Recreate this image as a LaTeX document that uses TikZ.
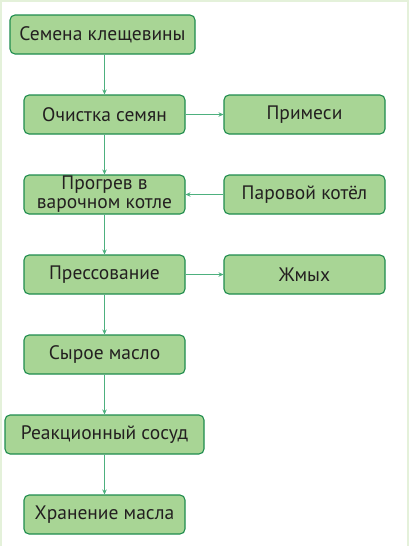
\documentclass[tikz,border=0pt]{standalone}
\usepackage{fontspec}
\setmainfont{PT Sans}
\usetikzlibrary{arrows.meta}
\definecolor{boxfill}{HTML}{A8D595}
\definecolor{boxline}{HTML}{1E8C4E}
\definecolor{flowline}{HTML}{4DB07E}
\definecolor{textgray}{HTML}{231F20}
\definecolor{framegreen}{HTML}{E4F1DA}

\tikzset{
	stepbox/.style={draw=boxline, fill=boxfill, line width=1.1pt, rounded corners=5pt,
		minimum width=161pt, minimum height=39pt, inner sep=1pt, align=center,
		text=textgray, font=\fontsize{19.5}{19}\selectfont},
	flow/.style={->, draw=flowline, line width=0.8pt},
}

\begin{document}
\begin{tikzpicture}[x=1pt, y=-1pt, >={Stealth[length=5pt,width=4.5pt]}]
			\useasboundingbox (0,0) rectangle (409,546);
			\draw[framegreen, line width=1.2pt] (1,546) -- (1,1) -- (408,1) -- (408,546);
			
			\node[stepbox, minimum width=185pt] (seeds) at (102.5,34.5) {Семена клещевины};
			
			\node[stepbox] (clean) at (104.5,114.5) {Очистка семян};
			\node[stepbox] (impur) at (304.5,114.5) {Примеси};
			
			\node[stepbox] (heat) at (104.5,194.5) {Прогрев в\\варочном котле};
			\node[stepbox] (boiler) at (304.5,194.5) {Паровой котёл};
			
			\node[stepbox] (press) at (104.5,274.5) {Прессование};
			\node[stepbox] (cake) at (304.5,274.5) {Жмых};
			
			\node[stepbox] (crude) at (104.5,354.5) {Сырое масло};
			\node[stepbox, minimum width=199pt] (react) at (104.5,434.5) {Реакционный сосуд};
			\node[stepbox] (store) at (104.5,514.5) {Хранение масла};
			
			\draw[flow] (seeds.south -| clean.north) to (clean);
			\draw[flow] (clean) to (impur);
			\draw[flow] (clean) to (heat);
			\draw[flow] (boiler) to (heat);
			\draw[flow] (heat) to (press);
			\draw[flow] (press) to (cake);
			\draw[flow] (press) to (crude);
			\draw[flow] (crude) to (react);
			\draw[flow] (react) to (store);
		\end{tikzpicture}
\end{document}
